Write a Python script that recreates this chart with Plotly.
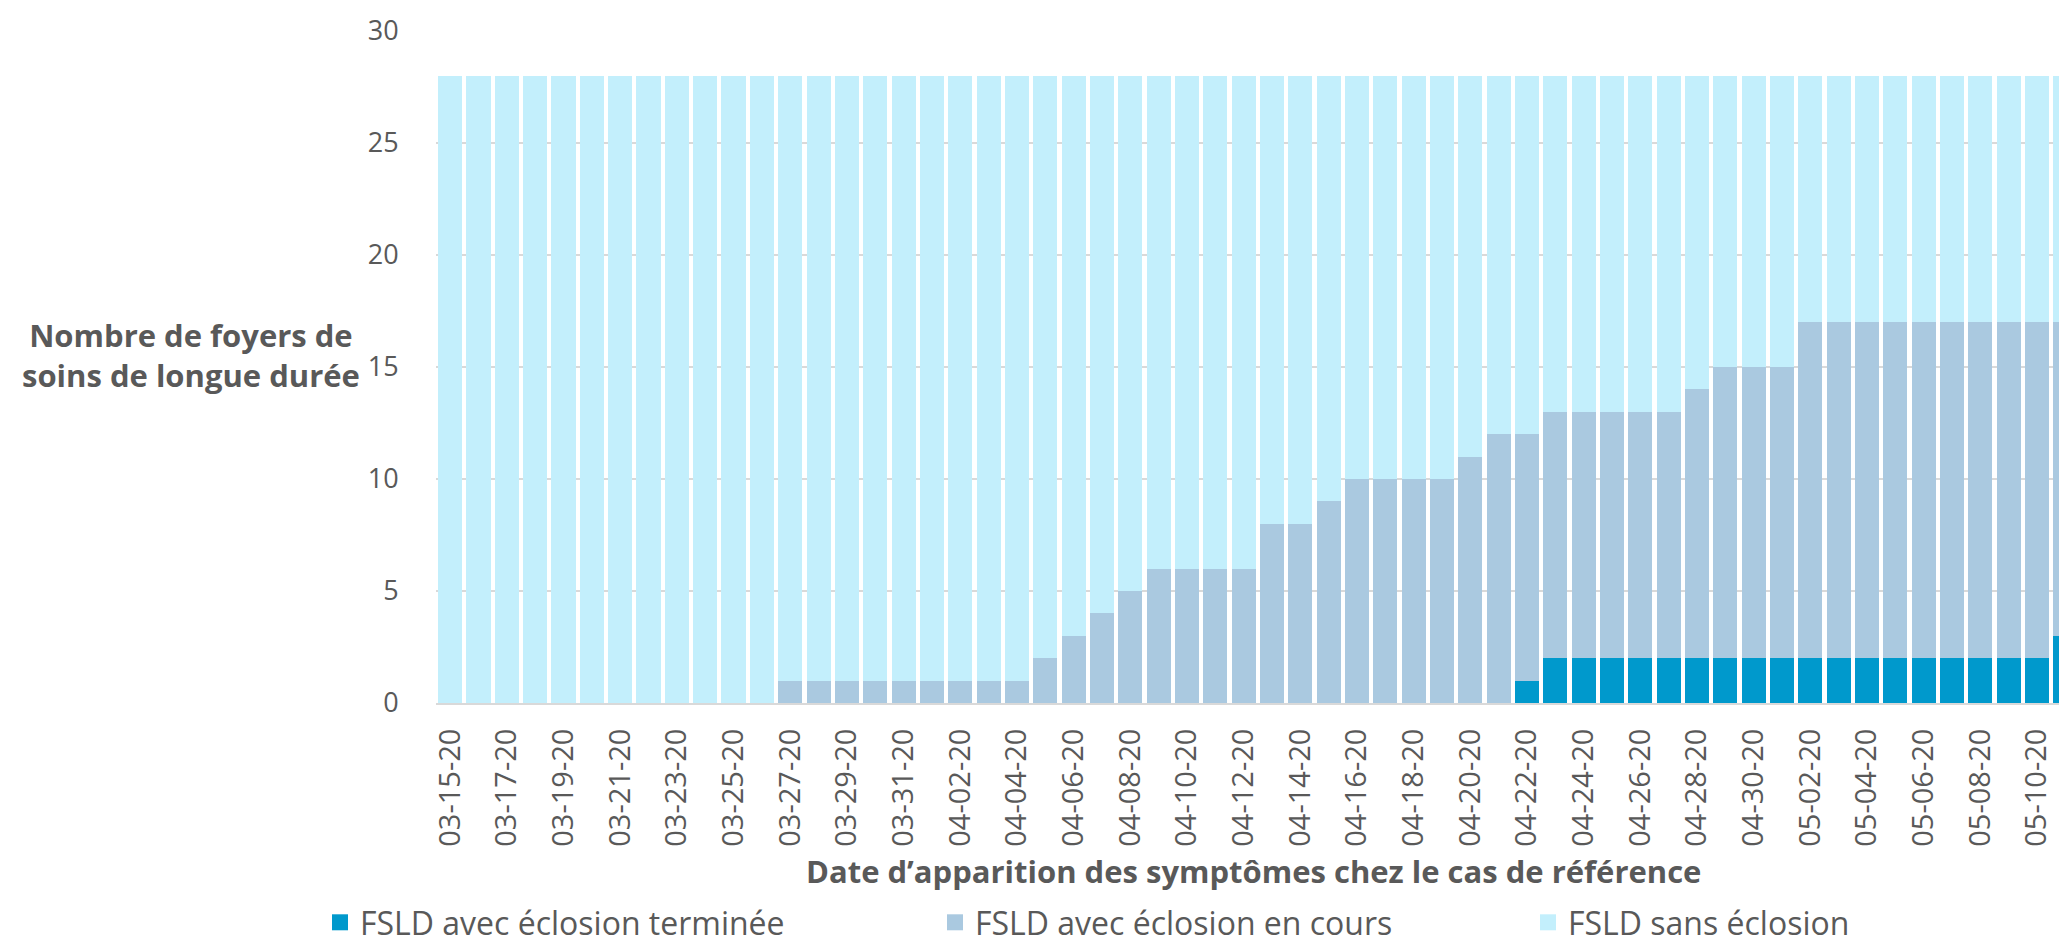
import plotly.graph_objects as go

dates = [
    "03-15-20", "03-16-20", "03-17-20", "03-18-20", "03-19-20", "03-20-20", "03-21-20", "03-22-20",
    "03-23-20", "03-24-20", "03-25-20", "03-26-20", "03-27-20", "03-28-20", "03-29-20", "03-30-20",
    "03-31-20", "04-01-20", "04-02-20", "04-03-20", "04-04-20", "04-05-20", "04-06-20", "04-07-20",
    "04-08-20", "04-09-20", "04-10-20", "04-11-20", "04-12-20", "04-13-20", "04-14-20", "04-15-20",
    "04-16-20", "04-17-20", "04-18-20", "04-19-20", "04-20-20", "04-21-20", "04-22-20", "04-23-20",
    "04-24-20", "04-25-20", "04-26-20", "04-27-20", "04-28-20", "04-29-20", "04-30-20", "05-01-20",
    "05-02-20", "05-03-20", "05-04-20", "05-05-20", "05-06-20", "05-07-20", "05-08-20", "05-09-20",
    "05-10-20", "05-11-20",
]

terminee = [
    0, 0, 0, 0, 0, 0, 0, 0, 0, 0, 0, 0, 0, 0, 0, 0, 0, 0, 0, 0, 0, 0, 0, 0, 0, 0, 0, 0, 0, 0,
    0, 0, 0, 0, 0, 0, 0, 0, 1, 2, 2, 2, 2, 2, 2, 2, 2, 2, 2, 2, 2, 2, 2, 2, 2, 2, 2, 3,
]

en_cours = [
    0, 0, 0, 0, 0, 0, 0, 0, 0, 0, 0, 0, 1, 1, 1, 1, 1, 1, 1, 1, 1, 2, 3, 4, 5, 6, 6, 6, 6, 8,
    8, 9, 10, 10, 10, 10, 11, 12, 11, 11, 11, 11, 11, 11, 12, 13, 13, 13, 15, 15, 15, 15, 15, 15, 15, 15, 15, 14,
]

sans = [
    28, 28, 28, 28, 28, 28, 28, 28, 28, 28, 28, 28, 27, 27, 27, 27, 27, 27, 27, 27, 27, 26, 25, 24, 23, 22, 22, 22, 22, 20,
    20, 19, 18, 18, 18, 18, 17, 16, 16, 15, 15, 15, 15, 15, 14, 13, 13, 13, 11, 11, 11, 11, 11, 11, 11, 11, 11, 11,
]

tick_labels = dates[::2]
y_ticks = [0, 5, 10, 15, 20, 25, 30]

series_names = ["FSLD avec éclosion terminée", "FSLD avec éclosion en cours", "FSLD sans éclosion"]
colors = ["#0099CC", "#AAC9E0", "#C3EFFC"]

FONT = "Open Sans"
GREY = "#595959"

W, H = 2067, 942
L, R, T, B = 428, 0, 23, 241
PW = W - L - R
PH = H - T - B


def px_x(x):
    return (x - L) / PW


def px_y(y):
    return (H - B - y) / PH


legend_ids = ["legend", "legend2", "legend3"]
legend_text_x = [360, 975, 1568]

fig = go.Figure()
for name, vals, col in zip(series_names, [terminee, en_cours, sans], colors):
    fig.add_trace(go.Bar(x=dates, y=vals, name=name, showlegend=False,
                         marker=dict(color=col, line=dict(width=0))))

# legend entries with larger square swatches
for name, col, lid in zip(series_names, colors, legend_ids):
    fig.add_trace(go.Scatter(x=[None], y=[None], mode="markers", name=name, legend=lid,
                             marker=dict(symbol="square", size=18, color=col, line=dict(width=0)),
                             showlegend=True))

layout_legends = {}
for lid, tx in zip(legend_ids, legend_text_x):
    layout_legends[lid] = dict(
        orientation="h",
        x=px_x(tx - 48), xanchor="left",
        y=px_y(923), yanchor="middle",
        font=dict(family=FONT, size=32, color=GREY),
        bgcolor="rgba(0,0,0,0)",
        itemsizing="trace",
    )

fig.update_layout(
    barmode="stack",
    bargap=0.15,
    width=W,
    height=H,
    paper_bgcolor="white",
    plot_bgcolor="white",
    margin=dict(l=L, r=R, t=T, b=B),
    font=dict(family=FONT, color=GREY, size=26),
    showlegend=True,
    **layout_legends,
)

fig.update_xaxes(
    type="category",
    tickmode="array",
    tickvals=tick_labels,
    ticktext=tick_labels,
    tickangle=-90,
    tickfont=dict(family=FONT, size=29, color=GREY),
    showline=True, linecolor="#D9D9D9", linewidth=2,
    showgrid=False,
    ticks="outside", ticklen=12, tickcolor="rgba(0,0,0,0)",
    range=[-0.5, 57.34],
)
fig.update_yaxes(
    range=[0, 30],
    tickvals=y_ticks,
    tickfont=dict(family=FONT, size=27, color=GREY),
    showgrid=True, gridcolor="#D9D9D9", gridwidth=2,
    zeroline=False,
    ticks="outside", ticklen=31, tickcolor="rgba(0,0,0,0)",
)

fig.add_annotation(
    text="<b>Nombre de foyers de<br>soins de longue durée</b>",
    xref="paper", yref="paper", x=px_x(183), y=px_y(350), xanchor="center", yanchor="middle",
    showarrow=False, align="center", font=dict(family=FONT, size=31, color=GREY),
)
fig.add_annotation(
    text="<b>Date d’apparition des symptômes chez le cas de référence</b>",
    xref="paper", yref="paper", x=px_x(1245), y=px_y(870), xanchor="center", yanchor="middle",
    showarrow=False, font=dict(family=FONT, size=31, color=GREY),
)

fig.write_html("out.html")
